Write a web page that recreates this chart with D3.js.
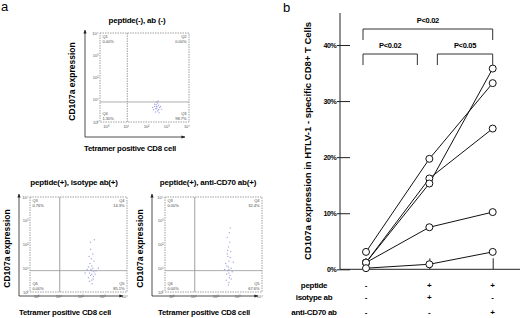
<!DOCTYPE html>
<html>
<head>
<meta charset="utf-8">
<script src="https://cdn.jsdelivr.net/npm/d3@7"></script>
<style>
  html, body { margin: 0; padding: 0; background: #fff; }
  svg { display: block; font-family: "Liberation Sans", Arial, sans-serif; }
</style>
</head>
<body>
<svg id="fig" width="520" height="318"></svg>
<script>
// ---- panel a data: flow plots ----
var flowTitles = ["peptide(-), ab (-)", "peptide(+), isotype ab(+)", "peptide(+), anti-CD70 ab(+)"];
var flowQuadNames = [["Q1", "Q2", "Q4", "Q3"], ["Q3", "Q4", "Q6", "Q5"], ["Q3", "Q4", "Q6", "Q5"]];
var flowQuadPct = [["0.00%", "0.00%", "1.30%", "98.7%"], ["0.76%", "14.3%", "0.00%", "85.1%"], ["0.00%", "32.4%", "0.00%", "67.6%"]];
var logTicks = [0, 1, 2, 3, 4];
var logTickLabels = ["10⁰", "10¹", "10²", "10³", "10⁴"];
var gateX = 1.05, gateY = 0.9;
// events, [log10 tetramer, log10 CD107a]
var events1 = [[2.5,0.7],[2.45,0.6],[2.6,0.75],[2.55,0.5],[2.4,0.8],[2.65,0.65],[2.5,0.9],[2.35,0.55],[2.7,0.7],[2.55,0.85],
  [2.45,0.45],[2.6,0.55],[2.5,0.6],[2.4,0.7],[2.58,0.95],[2.48,0.78],[2.62,0.42],[2.52,0.68],[2.3,0.65],[2.75,0.58]];
var events2 = [[2.4,0.8],[2.5,0.9],[2.45,0.7],[2.55,1.0],[2.35,0.6],[2.6,0.85],[2.5,0.5],[2.42,1.2],[2.48,1.4],[2.58,0.65],
  [2.3,0.95],[2.65,0.75],[2.5,1.1],[2.4,0.45],[2.55,1.6],[2.45,1.8],[2.6,1.3],[2.35,1.05],[2.7,0.9],[2.52,0.35],
  [2.44,2.1],[2.62,2.2],[2.38,1.5],[2.56,0.55],[2.2,0.8],[2.8,1.0],[2.5,0.75],[2.46,0.95]];
var events3 = [[2.6,0.8],[2.55,0.9],[2.65,0.7],[2.5,1.1],[2.7,1.0],[2.6,1.3],[2.55,1.5],[2.62,0.6],[2.48,0.5],[2.68,1.7],
  [2.58,1.9],[2.64,2.1],[2.52,2.3],[2.6,0.4],[2.75,0.85],[2.45,1.2],[2.57,1.05],[2.66,1.45],[2.5,0.75],[2.62,2.5],
  [2.7,0.55],[2.54,1.75],[2.58,0.3],[2.8,1.25],[2.4,0.95],[2.6,0.95],[2.66,2.7],[2.52,1.6]];
var flowEvents = [events1, events2, events3];

// ---- panel b data ----
var conditions = [0, 1, 2];
var subjects = [
  [3.1, 19.7, 33.2],
  [1.2, 16.2, 25.1],
  [1.2, 15.3, 35.8],
  [1.2, 7.5, 10.2],
  [0.2, 0.9, 3.1]
];
var yTicksB = [0, 10, 20, 30, 40];
var rowNames = ["peptide", "isotype ab", "anti-CD70 ab"];
var rowSigns = [["-", "+", "+"], ["-", "+", "-"], ["-", "-", "+"]];
var comparisons = [
  { a: 0, b: 2, label: "P<0.02", level: 0 },
  { a: 0, b: 1, label: "P<0.02", level: 1 },
  { a: 1, b: 2, label: "P<0.05", level: 1 }
];

var svg = d3.select("#fig");

// ======== panel a ========
svg.append("text").attr("x", 1).attr("y", 11).style("font-size", "13px").text("a");

var layouts = [
  { bx: 100, by: 33, bw: 89, bh: 89, ax: 85, ay: 137, tx: 137, ty: 23, ylx: 75, xlx: 130, xly: 151 },
  { bx: 30, by: 197, bw: 97, bh: 95, ax: 19, ay: 296, tx: 74, ty: 185, ylx: 10, xlx: 65, xly: 315 },
  { bx: 165, by: 197, bw: 97, bh: 95, ax: 152, ay: 296, tx: 208, ty: 185, ylx: 143, xlx: 204, xly: 315 }
];

var defs = svg.append("defs");
defs.append("marker").attr("id", "arr").attr("viewBox", "0 0 10 10")
  .attr("refX", 9).attr("refY", 5).attr("markerWidth", 5).attr("markerHeight", 5)
  .attr("orient", "auto")
  .append("path").attr("d", "M0,1L10,5L0,9z").attr("fill", "#222");

layouts.forEach(function(L, i) {
  var g = svg.append("g");
  var x = d3.scaleLinear().domain([-0.3, 4.1]).range([L.bx, L.bx + L.bw]);
  var y = d3.scaleLinear().domain([0, 4]).range([L.by + L.bh, L.by]);

  g.append("text").attr("x", L.tx).attr("y", L.ty).attr("text-anchor", "middle")
    .style("font-size", "8px").style("font-weight", "bold").style("letter-spacing", "-0.2px").text(flowTitles[i]);

  // box
  g.append("rect").attr("x", L.bx).attr("y", L.by).attr("width", L.bw).attr("height", L.bh)
    .attr("fill", "none").attr("stroke", "#888").attr("stroke-width", 0.8).attr("stroke-dasharray", "1.5,1");

  // gates
  g.append("line").attr("x1", x(gateX)).attr("x2", x(gateX)).attr("y1", L.by).attr("y2", L.by + L.bh)
    .attr("stroke", "#888").attr("stroke-width", 0.8).attr("stroke-dasharray", i === 0 ? "1.5,1" : null);
  g.append("line").attr("x1", L.bx).attr("x2", L.bx + L.bw).attr("y1", y(gateY)).attr("y2", y(gateY))
    .attr("stroke", "#999").attr("stroke-width", 0.8);

  // events
  g.selectAll("circle.ev").data(flowEvents[i]).enter().append("circle")
    .attr("cx", function(d) { return x(d[0]); })
    .attr("cy", function(d) { return y(d[1]); })
    .attr("r", 0.7).attr("fill", "#8a8ad8").attr("opacity", 0.75);

  // axis arrows
  g.append("line").attr("x1", L.ax).attr("y1", L.ay).attr("x2", L.ax).attr("y2", L.by - 3)
    .attr("stroke", "#222").attr("stroke-width", 0.8).attr("marker-end", "url(#arr)");
  g.append("line").attr("x1", L.ax).attr("y1", L.ay).attr("x2", L.bx + L.bw - 4).attr("y2", L.ay)
    .attr("stroke", "#222").attr("stroke-width", 0.8).attr("marker-end", "url(#arr)");

  // log tick labels
  logTicks.forEach(function(t, k) {
    g.append("text").attr("x", L.bx - 1.5).attr("y", y(t) + 1.5).attr("text-anchor", "end")
      .style("font-size", "4px").attr("fill", "#555").text(logTickLabels[k]);
    g.append("text").attr("x", x(t)).attr("y", L.by + L.bh + 6).attr("text-anchor", "middle")
      .style("font-size", "4px").attr("fill", "#555").text(logTickLabels[k]);
  });

  // quadrant labels
  var qpos = [
    { x: L.bx + 2.5, y: L.by + 5, a: "start" },
    { x: L.bx + L.bw - 2.5, y: L.by + 5, a: "end" },
    { x: L.bx + 2.5, y: L.by + L.bh - 7, a: "start" },
    { x: L.bx + L.bw - 2.5, y: L.by + L.bh - 7, a: "end" }
  ];
  qpos.forEach(function(p, k) {
    g.append("text").attr("x", p.x).attr("y", p.y).attr("text-anchor", p.a)
      .style("font-size", "4px").attr("fill", "#444").text(flowQuadNames[i][k]);
    g.append("text").attr("x", p.x).attr("y", p.y + 4.5).attr("text-anchor", p.a)
      .style("font-size", "4px").attr("fill", "#444").text(flowQuadPct[i][k]);
  });

  // axis titles
  g.append("text").attr("transform", "translate(" + L.ylx + "," + (L.by + L.bh / 2 + 4) + ") rotate(-90)")
    .attr("text-anchor", "middle").style("font-size", "8.5px").style("font-weight", "bold")
    .text("CD107a expression");
  g.append("text").attr("x", L.xlx).attr("y", L.xly).attr("text-anchor", "middle")
    .style("font-size", "7.8px").style("font-weight", "bold").style("letter-spacing", "-0.2px")
    .text("Tetramer positive CD8 cell");
});

// ======== panel b ========
svg.append("text").attr("x", 283).attr("y", 12).style("font-size", "13px").text("b");

var xB = d3.scalePoint().domain(conditions).range([366, 492.7]);
var yB = d3.scaleLinear().domain([0, 40]).range([269.3, 45]);
var axisX = 340;

// y axis
svg.append("line").attr("x1", axisX).attr("x2", axisX).attr("y1", 13).attr("y2", yB(0))
  .attr("stroke", "#222").attr("stroke-width", 1);
var yAx = svg.append("g").attr("transform", "translate(" + axisX + ",0)")
  .call(d3.axisRight(yB).tickValues(yTicksB).tickSize(10).tickFormat(""));
yAx.select(".domain").remove();
yAx.selectAll(".tick line").attr("x1", -3).attr("stroke", "#222");
yTicksB.forEach(function(t) {
  svg.append("text").attr("x", axisX - 3.5).attr("y", yB(t) + 2.5).attr("text-anchor", "end")
    .style("font-size", "7px").style("font-weight", "bold").style("letter-spacing", "-0.3px").text(t + "%");
});

svg.append("text")
  .attr("transform", "translate(311," + 141 + ") rotate(-90)")
  .attr("text-anchor", "middle").style("font-size", "9.5px").style("font-weight", "bold")
  .text("CD107a expression in HTLV-1 - specific CD8+ T Cells");

// x baseline + small ticks
svg.append("line").attr("x1", axisX).attr("x2", 520).attr("y1", yB(0)).attr("y2", yB(0))
  .attr("stroke", "#222").attr("stroke-width", 1);
var xAx = svg.append("g").attr("transform", "translate(0," + yB(0) + ")")
  .call(d3.axisTop(xB).tickValues([1, 2]).tickSize(11).tickFormat(""));
xAx.select(".domain").remove();
xAx.selectAll(".tick line").attr("stroke", "#222");

// subject lines
var line = d3.line().x(function(d, k) { return xB(k); }).y(function(d) { return yB(d); });
svg.selectAll("path.subj").data(subjects).enter().append("path")
  .attr("d", line).attr("fill", "none").attr("stroke", "#111").attr("stroke-width", 1);
subjects.forEach(function(s) {
  svg.selectAll(null).data(s).enter().append("circle")
    .attr("cx", function(d, k) { return xB(k); })
    .attr("cy", function(d) { return yB(d); })
    .attr("r", 3.5).attr("fill", "#fff").attr("stroke", "#111").attr("stroke-width", 1);
});

// brackets
comparisons.forEach(function(c) {
  var x1 = xB(c.a) - 3;
  var x2 = c.level === 0 ? xB(c.b) : (c.a === 0 ? xB(c.b) - 12 : xB(c.b));
  if (c.level === 1 && c.a === 1) x1 = xB(c.a) + 8;
  var yt = c.level === 0 ? 29 : 54;
  svg.append("path")
    .attr("d", "M" + x1 + "," + (yt + 11) + "V" + yt + "H" + x2 + "V" + (yt + 11))
    .attr("fill", "none").attr("stroke", "#333").attr("stroke-width", 1);
  svg.append("text").attr("x", (x1 + x2) / 2).attr("y", yt - 6).attr("text-anchor", "middle")
    .style("font-size", "7.5px").style("font-weight", "bold").style("letter-spacing", "-0.3px").text(c.label);
});

// condition table
var rowY = [285, 297, 312];
rowNames.forEach(function(n, r) {
  svg.append("text").attr("x", 314).attr("y", rowY[r] + 2.5).attr("text-anchor", "middle")
    .style("font-size", "8px").style("font-weight", "bold").style("letter-spacing", "-0.3px").text(n);
  rowSigns[r].forEach(function(s, k) {
    svg.append("text").attr("x", xB(k)).attr("y", rowY[r] + 3).attr("text-anchor", "middle")
      .style("font-size", "8px").style("font-weight", "bold").text(s);
  });
});
</script>
</body>
</html>
